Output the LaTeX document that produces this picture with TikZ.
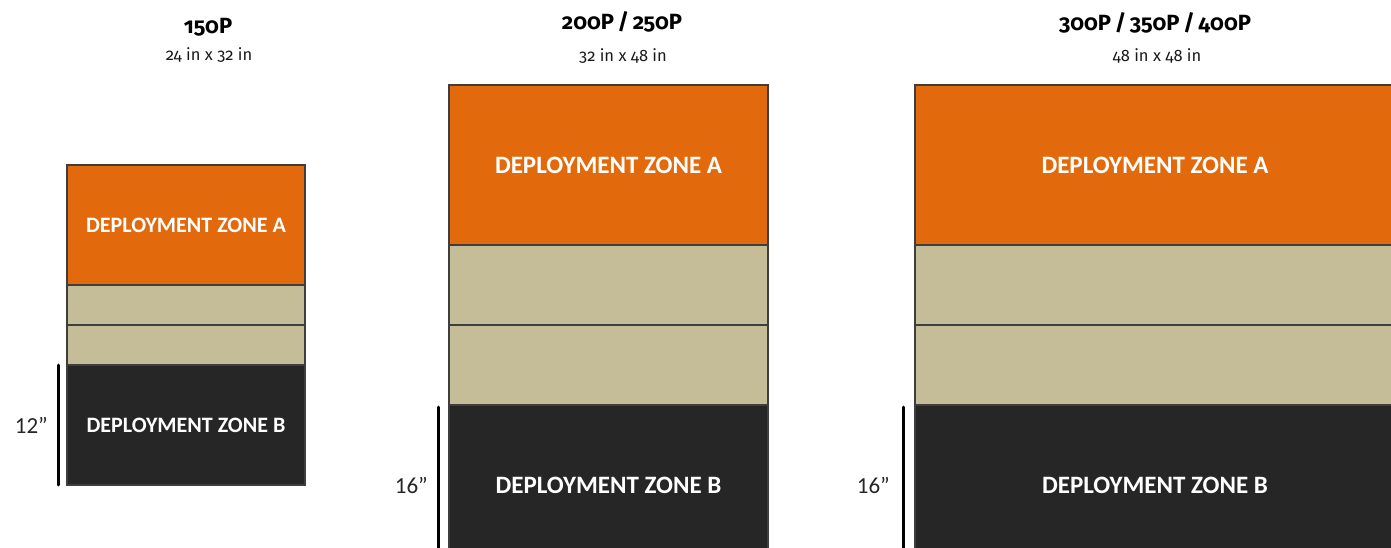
\documentclass[tikz,border=0pt]{standalone}
\usepackage{fontspec}
\setmainfont{Carlito}
\newfontfamily\headfont[Numbers=OldStyle]{Fira Sans}
\usetikzlibrary{positioning}

\definecolor{zoneorange}{RGB}{226,106,12}
\definecolor{zonetan}{RGB}{196,189,151}
\definecolor{zonedark}{RGB}{38,38,38}
\definecolor{zoneedge}{RGB}{62,62,62}

\tikzset{
    zonebox/.style={draw=zoneedge, line width=1.6pt, outer sep=0pt, inner sep=0pt, anchor=north},
    zoneA/.style={zonebox, fill=zoneorange, text=white, font=\bfseries},
    zoneM/.style={zonebox, fill=zonetan},
    zoneB/.style={zonebox, fill=zonedark, text=white, font=\bfseries},
    dimbar/.style={line width=3pt, line cap=round, black},
    dimlabel/.style={font=\fontsize{23}{26}\selectfont, text=black!85, inner sep=0pt},
    titletext/.style={font=\headfont\bfseries\fontsize{22}{26}\selectfont, inner sep=0pt},
    sizetext/.style={font=\headfont\fontsize{16.5}{19}\selectfont, text=black!90, inner sep=0pt}
}

\begin{document}
\begin{tikzpicture}[x=1pt, y=-1pt]
    \useasboundingbox (0,0) rectangle (1391,548);
    \clip (0,0) rectangle (1391,548);

    % titles
    \node[titletext] (t1) at (208,27) {150P};
    \node[sizetext] (s1) at (209,55) {24 in x 32 in};
    \node[titletext] (t2) at (622,22) {200P\,/\,250P};
    \node[sizetext] (s2) at (623,56) {32 in x 48 in};
    \node[titletext] (t3) at (1155,23) {300P\,/\,350P\,/\,400P};
    \node[sizetext] (s3) at (1157,56) {48 in x 48 in};

    % 1. 150P
    \begin{scope}[shift={(186,165)}]
    \node[zoneA, minimum width=238pt, minimum height=120pt, font=\bfseries\fontsize{22}{26}\selectfont] (a1) at (0,0) {DEPLOYMENT ZONE A};
    \node[zoneM, minimum width=238pt, minimum height=40pt, below=0pt of a1] (m1a) {};
    \node[zoneM, minimum width=238pt, minimum height=40pt, below=0pt of m1a] (m1b) {};
    \node[zoneB, minimum width=238pt, minimum height=120pt, font=\bfseries\fontsize{22}{26}\selectfont, below=0pt of m1b] (b1) {DEPLOYMENT ZONE B};
    \draw[dimbar] ([xshift=-9pt]b1.north west) -- ([xshift=-9pt]b1.south west);
    \node[dimlabel, left=19pt of b1.west] (d1) {12”};
    \end{scope}

    % 2. 200P / 250P
    \begin{scope}[shift={(608.5,85)}]
    \node[zoneA, minimum width=319pt, minimum height=160pt, font=\bfseries\fontsize{25}{29}\selectfont] (a2) at (0,0) {DEPLOYMENT ZONE A};
    \node[zoneM, minimum width=319pt, minimum height=80pt, below=0pt of a2] (m2a) {};
    \node[zoneM, minimum width=319pt, minimum height=80pt, below=0pt of m2a] (m2b) {};
    \node[zoneB, minimum width=319pt, minimum height=160pt, font=\bfseries\fontsize{25}{29}\selectfont, below=0pt of m2b] (b2) {DEPLOYMENT ZONE B};
    \draw[dimbar] ([xshift=-11pt,yshift=-2pt]b2.north west) -- ([xshift=-11pt]b2.south west);
    \node[dimlabel, left=21pt of b2.west] (d2) {16”};
    \end{scope}

    % 3. 300P / 350P / 400P
    \begin{scope}[shift={(1155,85)}]
    \node[zoneA, minimum width=480pt, minimum height=160pt, font=\bfseries\fontsize{25}{29}\selectfont] (a3) at (0,0) {DEPLOYMENT ZONE A};
    \node[zoneM, minimum width=480pt, minimum height=80pt, below=0pt of a3] (m3a) {};
    \node[zoneM, minimum width=480pt, minimum height=80pt, below=0pt of m3a] (m3b) {};
    \node[zoneB, minimum width=480pt, minimum height=160pt, font=\bfseries\fontsize{25}{29}\selectfont, below=0pt of m3b] (b3) {DEPLOYMENT ZONE B};
    \draw[dimbar] ([xshift=-12pt,yshift=-2pt]b3.north west) -- ([xshift=-12pt]b3.south west);
    \node[dimlabel, left=25pt of b3.west] (d3) {16”};
    \end{scope}
\end{tikzpicture}
\end{document}
